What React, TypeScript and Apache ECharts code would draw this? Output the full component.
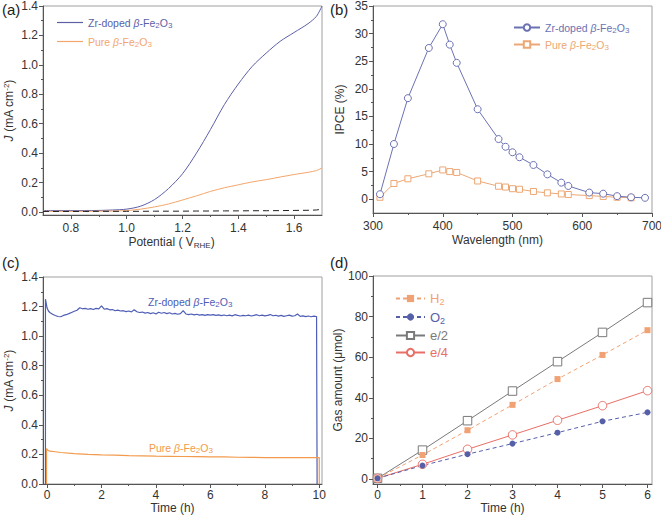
import React, { useEffect, useRef } from 'react';
import * as echarts from 'echarts';

const FONT = 'Liberation Sans, Arial, Helvetica, sans-serif';
const AXIS = '#555';
const FRAME = '#a0a0a0';
const TXT = '#333';

// ---------- (a) J–V curves ----------
const potential = [0.70, 0.75, 0.80, 0.85, 0.90, 0.95, 1.00, 1.05, 1.10, 1.15, 1.20, 1.25, 1.30, 1.35, 1.40, 1.45, 1.50, 1.55, 1.60, 1.65, 1.68, 1.70];
const jZr = [0.010, 0.010, 0.010, 0.010, 0.011, 0.014, 0.020, 0.040, 0.085, 0.160, 0.260, 0.400, 0.560, 0.730, 0.870, 0.990, 1.080, 1.160, 1.220, 1.280, 1.330, 1.400];
const jPure = [0.005, 0.005, 0.005, 0.005, 0.006, 0.007, 0.010, 0.020, 0.035, 0.055, 0.082, 0.110, 0.140, 0.165, 0.185, 0.205, 0.220, 0.238, 0.255, 0.270, 0.282, 0.300];
const jDark = [0.004, 0.004, 0.004, 0.004, 0.005, 0.005, 0.005, 0.005, 0.006, 0.006, 0.006, 0.007, 0.007, 0.008, 0.008, 0.009, 0.009, 0.010, 0.011, 0.012, 0.014, 0.020];

// ---------- (b) IPCE ----------
const wlZr = [310, 330, 350, 380, 400, 410, 420, 450, 480, 490, 500, 510, 530, 550, 570, 580, 610, 630, 650, 670, 690];
const ipceZr = [0.9, 10.0, 18.3, 27.4, 31.7, 28.0, 24.7, 16.3, 10.9, 9.5, 8.5, 7.6, 6.2, 4.5, 3.0, 2.4, 1.2, 1.0, 0.55, 0.35, 0.25];
const wlPure = [310, 330, 350, 380, 400, 410, 420, 450, 480, 490, 500, 510, 530, 550, 570, 580, 610, 630, 650, 670];
const ipcePure = [0.35, 2.85, 3.7, 4.6, 5.3, 5.0, 4.85, 3.3, 2.35, 2.2, 1.9, 1.8, 1.4, 1.15, 0.95, 0.85, 0.65, 0.5, 0.35, 0.25];

// ---------- (c) stability ----------
const zrStartT = [-0.06, -0.06, 0.0, 0.05];
const zrStartJ = [0.0, 1.25, 1.19, 1.17];
// readings every 0.1 h from 0.1 h to 9.9 h
const zrStepJ = [
  1.160, 1.148, 1.140, 1.133, 1.131, 1.140, 1.145, 1.152, 1.160, 1.168,
  1.175, 1.192, 1.185, 1.188, 1.182, 1.186, 1.180, 1.188, 1.185, 1.205,
  1.182, 1.186, 1.178, 1.180, 1.172, 1.176, 1.170, 1.172, 1.166, 1.170,
  1.164, 1.178, 1.165, 1.160, 1.163, 1.156, 1.160, 1.152, 1.158, 1.150,
  1.162, 1.155, 1.160, 1.152, 1.158, 1.150, 1.154, 1.148, 1.152, 1.172,
  1.150, 1.146, 1.150, 1.144, 1.148, 1.142, 1.146, 1.140, 1.146, 1.142,
  1.145, 1.140, 1.144, 1.139, 1.143, 1.138, 1.142, 1.137, 1.145, 1.140,
  1.136, 1.140, 1.138, 1.142, 1.136, 1.140, 1.145, 1.138, 1.142, 1.137,
  1.140, 1.146, 1.138, 1.141, 1.135, 1.140, 1.134, 1.138, 1.142, 1.135,
  1.138, 1.150, 1.134, 1.137, 1.132, 1.136, 1.131, 1.135, 1.133,
];
const zrEndT = [9.92, 9.92];
const zrEndJ = [1.133, 0.0];
const pureT = [-0.02, -0.02, 0.03, 0.1, 0.3, 0.5, 1, 1.5, 2, 2.5, 3, 3.5, 4, 4.5, 5, 5.5, 6, 6.5, 7, 7.5, 8, 8.5, 9, 9.5, 10.0, 10.0];
const pureJ = [0.0, 0.24, 0.228, 0.222, 0.218, 0.213, 0.206, 0.200, 0.197, 0.195, 0.192, 0.190, 0.188, 0.187, 0.186, 0.185, 0.184, 0.183, 0.181, 0.180, 0.179, 0.178, 0.178, 0.178, 0.178, 0.0];

// ---------- (d) gas evolution ----------
const hours = [0, 1, 2, 3, 4, 5, 6];
const h2 = [0.3, 11.8, 24.0, 36.5, 49.2, 61.1, 73.3];
const o2 = [0.3, 6.6, 12.2, 17.4, 22.8, 28.4, 32.8];
const eHalf = [0.3, 14.2, 28.7, 43.3, 57.8, 72.2, 86.9];
const eQuarter = [0.3, 7.2, 14.6, 21.7, 28.9, 36.1, 43.5];

// ---------- ticks ----------
const aXMajor = [0.8, 1.0, 1.2, 1.4, 1.6];
const aXMinor = [0.9, 1.1, 1.3, 1.5];
const jMajor = [0, 0.2, 0.4, 0.6, 0.8, 1.0, 1.2, 1.4];
const jMinor = [0.1, 0.3, 0.5, 0.7, 0.9, 1.1, 1.3];
const bXMajor = [300, 400, 500, 600, 700];
const bXMinor = [350, 450, 550, 650];
const bYMajor = [0, 5, 10, 15, 20, 25, 30, 35];
const bYMinor = [2.5, 7.5, 12.5, 17.5, 22.5, 27.5, 32.5];
const cXMajor = [0, 2, 4, 6, 8, 10];
const cXMinor = [1, 3, 5, 7, 9];
const dXMajor = [0, 1, 2, 3, 4, 5, 6];
const dXMinor = [0.5, 1.5, 2.5, 3.5, 4.5, 5.5];
const dYMajor = [0, 20, 40, 60, 80, 100];
const dYMinor = [10, 30, 50, 70, 90];

const C = {
  za: '#5b5fa6', pa: '#f3a66c',
  zb: '#6b72b3', pb: '#eda774',
  zc: '#4e5db5', pc: '#f29a4d',
  h2: '#f0a274', o2: '#5660a8', e2: '#7a7a7a', e4: '#e86f66',
};

const zip = (xs: number[], ys: number[]) => xs.map((x, i) => [x, ys[i]]);

function richSet(p: string, color: string, size: number) {
  return {
    [p + 'n']: { color, fill: color, fontSize: size, fontFamily: FONT },
    [p + 'i']: { color, fill: color, fontSize: size, fontFamily: FONT, fontStyle: 'italic' },
    [p + 's']: { color, fill: color, fontSize: Math.round(size * 0.72), fontFamily: FONT, padding: [Math.round(size * 0.5), 0, 0, 0] },
  };
}
const feText = (p: string, lead: string) => `{${p}n|${lead}}{${p}i|β}{${p}n|-Fe}{${p}s|2}{${p}n|O}{${p}s|3}`;

const nameRich = {
  i: { fontStyle: 'italic', fontSize: 12, fontFamily: FONT, color: TXT },
  u: { fontSize: 8, fontFamily: FONT, color: TXT, padding: [0, 0, 6, 0] },
  s: { fontSize: 8, fontFamily: FONT, color: TXT, padding: [6, 0, 0, 0] },
};
const nameStyle = (pad?: number[]) => ({ fontSize: 12, fontFamily: FONT, color: TXT, rich: nameRich, padding: pad || [0, 0, 0, 0] });

function xAxes(g: number, min: number, max: number, major: number[], minor: number[], fmt: (v: number) => string, name: string, nameGap: number, margin: number, pad?: number[]) {
  return [
    {
      gridIndex: g, type: 'value', min, max, position: 'bottom',
      axisLine: { show: true, onZero: false, lineStyle: { color: AXIS, width: 1 } },
      axisTick: { show: true, inside: false, length: 4, customValues: major, lineStyle: { color: AXIS } },
      axisLabel: { show: true, customValues: major, formatter: fmt, color: TXT, fontSize: 12, fontFamily: FONT, margin },
      splitLine: { show: false },
      name, nameLocation: 'middle', nameGap, nameTextStyle: nameStyle(pad),
    },
    {
      gridIndex: g, type: 'value', min, max, position: 'bottom',
      axisLine: { show: false, onZero: false },
      axisTick: { show: true, inside: false, length: 2, customValues: minor, lineStyle: { color: AXIS } },
      axisLabel: { show: false },
      splitLine: { show: false },
    },
  ];
}
function yAxes(g: number, min: number, max: number, major: number[], minor: number[], fmt: (v: number) => string, name: string, nameGap: number, margin: number) {
  return [
    {
      gridIndex: g, type: 'value', min, max, position: 'left',
      axisLine: { show: true, onZero: false, lineStyle: { color: AXIS, width: 1 } },
      axisTick: { show: true, inside: false, length: 4, customValues: major, lineStyle: { color: AXIS } },
      axisLabel: { show: true, customValues: major, formatter: fmt, color: TXT, fontSize: 12, fontFamily: FONT, margin },
      splitLine: { show: false },
      name, nameLocation: 'middle', nameGap, nameRotate: 90, nameTextStyle: nameStyle(),
    },
    {
      gridIndex: g, type: 'value', min, max, position: 'left',
      axisLine: { show: false, onZero: false },
      axisTick: { show: true, inside: false, length: 2, customValues: minor, lineStyle: { color: AXIS } },
      axisLabel: { show: false },
      splitLine: { show: false },
    },
  ];
}

const f1 = (v: number) => v.toFixed(1);
const f0 = (v: number) => String(Math.round(v));

const gridBase = { show: true, borderColor: FRAME, borderWidth: 1, backgroundColor: 'transparent', containLabel: false, outerBoundsMode: 'none' };

const openSym = (color: string) => ({ color: '#fff', borderColor: color, borderWidth: 1 });

export default function App() {
  const ref = useRef<HTMLDivElement>(null);
  useEffect(() => {
    if (!ref.current) return;
    const chart = echarts.init(ref.current, null, { renderer: 'svg' });

    const xs = [
      ...xAxes(0, 0.7, 1.7, aXMajor, aXMinor, f1, 'Potential ( V{s|RHE})', 20, 7, [0, 22, 0, 0]),
      ...xAxes(1, 300, 700, bXMajor, bXMinor, f0, 'Wavelength (nm)', 21, 7, [0, 30, 0, 0]),
      ...xAxes(2, -0.15, 10.1, cXMajor, cXMinor, f0, 'Time (h)', 17, 5, [0, 20, 0, 0]),
      ...xAxes(3, -0.1, 6.1, dXMajor, dXMinor, f0, 'Time (h)', 17, 5, [0, 20, 0, 0]),
    ];
    const ys = [
      ...yAxes(0, -0.02, 1.4, jMajor, jMinor, f1, '{i|J} (mA cm{u|-2})', 27, 5),
      ...yAxes(1, -2.5, 35, bYMajor, bYMinor, f0, 'IPCE (%)', 27, 5),
      ...yAxes(2, 0, 1.4, jMajor, jMinor, f1, '{i|J} (mA cm{u|-2})', 27, 5),
      ...yAxes(3, -2.5, 100, dYMajor, dYMinor, f0, 'Gas amount (μmol)', 27, 5),
    ];

    const legendRich = {
      ...richSet('za', C.za, 10.5), ...richSet('pa', C.pa, 10.5),
      ...richSet('zb', C.zb, 10.5), ...richSet('pb', C.pb, 10.5),
      ...richSet('hh', C.h2, 13), ...richSet('oo', C.o2, 13), ...richSet('gg', C.e2, 13), ...richSet('rr', C.e4, 13),
    };
    const legendFmt = (name: string) => {
      if (name === 'Zr-doped β-Fe2O3') return feText('za', 'Zr-doped ');
      if (name === 'Pure β-Fe2O3') return feText('pa', 'Pure ');
      if (name === 'Zr-doped β-Fe2O3 IPCE') return feText('zb', 'Zr-doped ');
      if (name === 'Pure β-Fe2O3 IPCE') return feText('pb', 'Pure ');
      if (name === 'H2') return '{hhn|H}{hhs|2}';
      if (name === 'O2') return '{oon|O}{oos|2}';
      if (name === 'e/2') return '{ggn|e/2}';
      return '{rrn|e/4}';
    };
    const legendBase = {
      orient: 'vertical', itemWidth: 26, itemHeight: 8, itemGap: 6, padding: 0,
      formatter: legendFmt, textStyle: { rich: legendRich, fontFamily: FONT },
      selectedMode: false,
    };

    const annRich = { ...richSet('zc', C.zc, 10.5), ...richSet('pc', C.pc, 10.5) };

    const option: any = {
      animation: false,
      backgroundColor: '#fff',
      textStyle: { fontFamily: FONT },
      grid: [
        { ...gridBase, left: 43, top: 6, width: 279, height: 209 },
        { ...gridBase, left: 373, top: 6, width: 279, height: 207 },
        { ...gridBase, left: 43, top: 277, width: 279, height: 207 },
        { ...gridBase, left: 373, top: 276, width: 279, height: 208 },
      ],
      xAxis: xs,
      yAxis: ys,
      legend: [
        { ...legendBase, left: 57, top: 17, icon: 'rect', itemHeight: 1.2, itemGap: 7, data: ['Zr-doped β-Fe2O3', 'Pure β-Fe2O3'] },
        { ...legendBase, left: 513, top: 22, itemGap: 5, data: ['Zr-doped β-Fe2O3 IPCE', 'Pure β-Fe2O3 IPCE'] },
        { ...legendBase, left: 395, top: 292, itemWidth: 29, itemHeight: 9, itemGap: 4, data: ['H2', 'O2', 'e/2', 'e/4'] },
      ],
      series: [
        // (a)
        { name: 'Zr-doped β-Fe2O3', type: 'line', xAxisIndex: 0, yAxisIndex: 0, data: zip(potential, jZr), smooth: 0.3, symbol: 'none', lineStyle: { color: C.za, width: 1 }, itemStyle: { color: C.za } },
        { name: 'Pure β-Fe2O3', type: 'line', xAxisIndex: 0, yAxisIndex: 0, data: zip(potential, jPure), smooth: 0.3, symbol: 'none', lineStyle: { color: C.pa, width: 1 }, itemStyle: { color: C.pa } },
        { name: 'dark', type: 'line', xAxisIndex: 0, yAxisIndex: 0, data: zip(potential, jDark), symbol: 'none', lineStyle: { color: '#222', width: 1, type: [6, 4] } },
        // (b)
        { name: 'Pure β-Fe2O3 IPCE', type: 'line', xAxisIndex: 2, yAxisIndex: 2, data: zip(wlPure, ipcePure), symbol: 'rect', symbolSize: 6, lineStyle: { color: C.pb, width: 1 }, itemStyle: openSym(C.pb) },
        { name: 'Zr-doped β-Fe2O3 IPCE', type: 'line', xAxisIndex: 2, yAxisIndex: 2, data: zip(wlZr, ipceZr), symbol: 'circle', symbolSize: 7, lineStyle: { color: C.zb, width: 1 }, itemStyle: openSym(C.zb) },
        // (c)
        { name: 'zr-stab', type: 'line', xAxisIndex: 4, yAxisIndex: 4, symbol: 'none', lineStyle: { color: C.zc, width: 1.2 },
          data: [...zip(zrStartT, zrStartJ), ...zrStepJ.map((v, i) => [Number(((i + 1) * 0.1).toFixed(1)), v]), ...zip(zrEndT, zrEndJ)] },
        { name: 'pure-stab', type: 'line', xAxisIndex: 4, yAxisIndex: 4, symbol: 'none', lineStyle: { color: C.pc, width: 1.2 }, data: zip(pureT, pureJ) },
        // (d)
        { name: 'e/2', type: 'line', xAxisIndex: 6, yAxisIndex: 6, data: zip(hours, eHalf), symbol: 'rect', symbolSize: 8.5, lineStyle: { color: C.e2, width: 1 }, itemStyle: openSym(C.e2) },
        { name: 'e/4', type: 'line', xAxisIndex: 6, yAxisIndex: 6, data: zip(hours, eQuarter), symbol: 'circle', symbolSize: 8.5, lineStyle: { color: C.e4, width: 1 }, itemStyle: openSym(C.e4) },
        { name: 'H2', type: 'line', xAxisIndex: 6, yAxisIndex: 6, data: zip(hours, h2), symbol: 'rect', symbolSize: 6, lineStyle: { color: C.h2, width: 1, type: [4, 3] }, itemStyle: { color: C.h2 } },
        { name: 'O2', type: 'line', xAxisIndex: 6, yAxisIndex: 6, data: zip(hours, o2), symbol: 'circle', symbolSize: 6, lineStyle: { color: C.o2, width: 1, type: [4, 3] }, itemStyle: { color: C.o2 } },
      ],
      graphic: [
        { type: 'text', x: 2, y: 9, style: { text: '(a)', fontSize: 15, fontFamily: FONT, fill: '#222', verticalAlign: 'middle' } },
        { type: 'text', x: 330, y: 9, style: { text: '(b)', fontSize: 15, fontFamily: FONT, fill: '#222', verticalAlign: 'middle' } },
        { type: 'text', x: 2, y: 262, style: { text: '(c)', fontSize: 15, fontFamily: FONT, fill: '#222', verticalAlign: 'middle' } },
        { type: 'text', x: 330, y: 262, style: { text: '(d)', fontSize: 15, fontFamily: FONT, fill: '#222', verticalAlign: 'middle' } },
        { type: 'text', x: 148, y: 302, style: { text: feText('zc', 'Zr-doped '), rich: annRich, verticalAlign: 'middle' } },
        { type: 'text', x: 149, y: 448, style: { text: feText('pc', 'Pure '), rich: annRich, verticalAlign: 'middle' } },
      ],
    };
    chart.setOption(option);
    return () => chart.dispose();
  }, []);
  return <div ref={ref} style={{ position: 'absolute', left: 0, top: 0, width: 661, height: 516, background: '#fff' }} />;
}
